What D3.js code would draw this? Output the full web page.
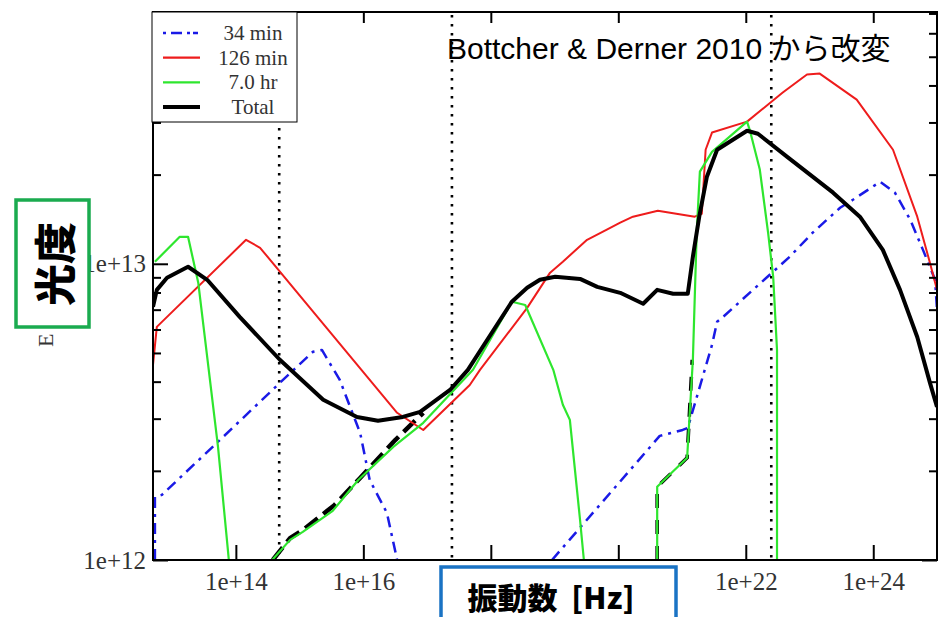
<!DOCTYPE html>
<html>
<head>
<meta charset="utf-8">
<script src="https://cdn.jsdelivr.net/npm/d3@7"></script>
<style>
  body { margin: 0; background: #fff; }
  svg { display: block; }
</style>
</head>
<body>
<svg id="chart" width="942" height="617"></svg>
<script>
// alle punkter: [log10(frekvens Hz), log10(luminositet)]
var blue34a = [[12.73, 12.000], [12.73, 12.213], [12.84, 12.220], [13.70, 12.395], [14.69, 12.598],
    [15.21, 12.703], [15.35, 12.709], [15.63, 12.608], [15.95, 12.429], [16.10, 12.270],
    [16.37, 12.159], [16.53, 12.000]];
var blue34b = [[18.96, 12.000], [20.65, 12.419], [21.01, 12.439], [21.09, 12.446], [21.47, 12.726],
    [21.55, 12.804], [21.63, 12.818], [22.69, 13.024], [23.05, 13.105], [23.48, 13.189],
    [23.68, 13.216], [24.11, 13.277], [24.34, 13.240], [24.58, 13.149], [24.78, 13.047],
    [24.97, 12.946], [25.00, 12.845]];
var red126 = [[12.70, 12.659], [12.76, 12.787], [14.16, 13.081], [14.38, 13.054], [16.53, 12.497],
    [16.94, 12.439], [17.67, 12.591], [17.83, 12.642], [18.57, 12.851], [18.93, 12.970],
    [19.13, 13.007], [19.51, 13.081], [19.82, 13.115], [20.03, 13.139], [20.23, 13.159],
    [20.62, 13.179], [21.20, 13.159], [21.31, 13.169], [21.37, 13.385], [21.47, 13.443],
    [22.02, 13.480], [22.58, 13.578], [22.96, 13.639], [23.16, 13.642], [23.74, 13.554],
    [24.31, 13.385], [24.69, 13.159], [24.89, 13.003], [25.00, 12.912]];
var green7a = [[12.73, 13.007], [13.12, 13.091], [13.25, 13.091], [13.41, 12.936], [13.72, 12.382],
    [13.89, 12.000]];
var green7b = [[14.57, 12.000], [14.85, 12.068], [15.05, 12.095], [15.52, 12.166], [15.92, 12.270],
    [16.47, 12.382], [16.94, 12.463], [17.72, 12.642], [18.33, 12.872], [18.54, 12.861],
    [18.98, 12.642], [19.13, 12.524], [19.24, 12.473], [19.40, 12.135], [19.46, 12.000]];
var green7c = [[20.61, 12.000], [20.61, 12.247], [21.08, 12.345], [21.17, 12.676], [21.23, 13.105],
    [21.28, 13.311], [21.47, 13.378], [22.02, 13.480], [22.07, 13.446], [22.22, 13.318],
    [22.35, 13.105], [22.43, 12.956], [22.49, 12.709], [22.49, 12.000]];
var totalMain = [[12.70, 12.855], [12.76, 12.912], [12.92, 12.953], [13.25, 12.990], [13.55, 12.946],
    [14.06, 12.821], [14.69, 12.676], [15.37, 12.541], [15.90, 12.483], [16.23, 12.470],
    [16.62, 12.483], [16.89, 12.500], [17.36, 12.574], [17.64, 12.642], [18.33, 12.872],
    [18.57, 12.919], [18.77, 12.946], [19.01, 12.956], [19.40, 12.949], [19.67, 12.922],
    [20.03, 12.902], [20.39, 12.865], [20.61, 12.912], [20.86, 12.899], [21.09, 12.899],
    [21.17, 13.024], [21.27, 13.159], [21.39, 13.294], [21.55, 13.385], [22.02, 13.449],
    [22.19, 13.439], [22.65, 13.361], [23.37, 13.240], [23.79, 13.159], [24.15, 13.047],
    [24.42, 12.912], [24.69, 12.753], [24.89, 12.598], [25.00, 12.517]];
var totalLowA = [[14.58, 12.000], [14.85, 12.074], [15.05, 12.101], [15.55, 12.186], [15.95, 12.277],
    [16.50, 12.405], [16.94, 12.497]];
var totalLowB = [[20.61, 12.000], [20.61, 12.247], [21.08, 12.345], [21.16, 12.676]];

var markerLogNu = [14.68, 17.39, 22.40]; // lodrette prikkede linjer
var xTickExp = [14, 16, 18, 20, 22, 24];
var xHiddenLabels = [18, 20]; // dækket af den blå boks
var yTickExp = [12, 13];
var yMinor = [2e12, 3e12, 4e12, 5e12, 6e12, 7e12, 8e12, 9e12, 2e13, 3e13, 4e13, 5e13, 6e13, 7e13];
var legendLabels = ["34 min", "126 min", "7.0 hr", "Total"];
var titleText = "Bottcher & Derner 2010 から改変";
var yLabelText = "光度";
var xLabelText = "振動数  [Hz]";

var svg = d3.select("#chart");
var mLeft = 153, mTop = 12, mRight = 937, mBottom = 560;

var x = d3.scaleLog().domain([Math.pow(10, 12.7), 1e25]).range([mLeft, mRight]);
var y = d3.scaleLog().domain([1e12, Math.pow(10, 13.85)]).range([mBottom, mTop]);

var serif = "'Liberation Serif', 'Times New Roman', serif";

svg.append("defs").append("clipPath").attr("id", "plotclip")
    .append("rect").attr("x", mLeft).attr("y", mTop).attr("width", mRight - mLeft).attr("height", mBottom - mTop);

var line = d3.line()
    .x(function(d) { return x(Math.pow(10, d[0])); })
    .y(function(d) { return y(Math.pow(10, d[1])); });

var plot = svg.append("g").attr("clip-path", "url(#plotclip)");

// prikkede markeringslinjer
markerLogNu.forEach(function(v, i) {
    plot.append("line")
        .attr("x1", x(Math.pow(10, v))).attr("x2", x(Math.pow(10, v)))
        .attr("y1", i === 0 ? 128 : mTop + 3).attr("y2", mBottom)
        .attr("stroke", "#000").attr("stroke-width", 2.6)
        .attr("stroke-dasharray", "2.6,6.4");
});

function drawLine(data, color, width, dash) {
    var p = plot.append("path").datum(data)
        .attr("d", line)
        .attr("fill", "none")
        .attr("stroke", color)
        .attr("stroke-width", width)
        .attr("stroke-linejoin", "round");
    if (dash) p.attr("stroke-dasharray", dash);
    return p;
}

drawLine(blue34a, "#1a1ae6", 2.5, "11,6,3,6");
drawLine(blue34b, "#1a1ae6", 2.5, "11,6,3,6");
drawLine(totalLowA, "#000", 4.5, "16,7");
drawLine(totalLowB, "#000", 3.6, "14,12");
drawLine(red126, "#ee1c1c", 2);
drawLine(green7a, "#2ee62e", 2.2);
drawLine(green7b, "#2ee62e", 2.2);
drawLine(green7c, "#2ee62e", 2.2);
drawLine(totalMain, "#000", 4);

// ramme
svg.append("rect").attr("x", mLeft).attr("y", mTop).attr("width", mRight - mLeft).attr("height", mBottom - mTop)
    .attr("fill", "none").attr("stroke", "#000").attr("stroke-width", 2);

// x-akse (nederst og øverst)
var xTicks = xTickExp.map(function(e) { return Math.pow(10, e); });
svg.append("g").attr("transform", "translate(0," + mBottom + ")")
    .call(d3.axisBottom(x).tickValues(xTicks).tickSize(-15).tickPadding(12)
        .tickFormat(function(d) {
            var e = Math.round(Math.log10(d));
            return xHiddenLabels.indexOf(e) >= 0 ? "" : "1e+" + e;
        }));
svg.append("g").attr("transform", "translate(0," + mTop + ")")
    .call(d3.axisTop(x).tickValues(xTicks).tickSize(-11).tickFormat(""));

// y-akse (venstre og højre)
var yTicks = yTickExp.map(function(e) { return Math.pow(10, e); });
svg.append("g").attr("transform", "translate(" + mLeft + ",0)")
    .call(d3.axisLeft(y).tickValues(yTicks).tickSize(-15).tickPadding(7)
        .tickFormat(function(d) { return "1e+" + Math.round(Math.log10(d)); }));
svg.append("g").attr("transform", "translate(" + mRight + ",0)")
    .call(d3.axisRight(y).tickValues(yTicks).tickSize(-15).tickFormat(""));
svg.append("g").attr("transform", "translate(" + mLeft + ",0)")
    .call(d3.axisLeft(y).tickValues(yMinor).tickSize(-8).tickFormat(""));
svg.append("g").attr("transform", "translate(" + mRight + ",0)")
    .call(d3.axisRight(y).tickValues(yMinor).tickSize(-8).tickFormat(""));

svg.selectAll(".domain").remove();
svg.selectAll(".tick line").attr("stroke", "#000").attr("stroke-width", 2);
svg.selectAll(".tick text").style("font-family", serif).style("font-size", "25px").attr("fill", "#333");

// rester af den oprindelige y-akse-tekst
svg.append("text")
    .attr("transform", "translate(53,347) rotate(-90)")
    .style("font-family", serif).style("font-size", "22px").attr("fill", "#333")
    .text("E");

// signaturforklaring
var legend = svg.append("g");
legend.append("rect").attr("x", 152).attr("y", 12).attr("width", 145).attr("height", 110)
    .attr("fill", "#fff").attr("stroke", "#000").attr("stroke-width", 1);
var legendStyles = [
    { color: "#1a1ae6", width: 2.5, dash: "3,5,11,5,3" },
    { color: "#ee1c1c", width: 2.2, dash: null },
    { color: "#2ee62e", width: 2.4, dash: null },
    { color: "#000", width: 4, dash: null }
];
legendLabels.forEach(function(lbl, i) {
    var yy = 33 + i * 24.7;
    var l = legend.append("line").attr("x1", 163).attr("x2", 200).attr("y1", yy).attr("y2", yy)
        .attr("stroke", legendStyles[i].color).attr("stroke-width", legendStyles[i].width);
    if (legendStyles[i].dash) l.attr("stroke-dasharray", legendStyles[i].dash);
    legend.append("text").attr("x", 253).attr("y", yy + 7)
        .attr("text-anchor", "middle")
        .style("font-family", serif).style("font-size", "21px").attr("fill", "#333")
        .text(lbl);
});

// titel
svg.append("text").attr("x", 447).attr("y", 59)
    .style("font-family", "'Liberation Sans', Arial, 'Noto Sans CJK JP', sans-serif")
    .style("font-size", "30px").attr("fill", "#000")
    .text(titleText);

// grøn boks med "光度"
svg.append("rect").attr("x", 16).attr("y", 200).attr("width", 73).attr("height", 127)
    .attr("fill", "#fff").attr("stroke", "#1aab4f").attr("stroke-width", 3.5);
svg.append("text")
    .attr("transform", "translate(52.5,264) rotate(-90)")
    .attr("text-anchor", "middle").attr("dominant-baseline", "central")
    .style("font-family", "'Noto Sans CJK JP', sans-serif").style("font-weight", "900")
    .style("font-size", "42px").attr("fill", "#000")
    .text(yLabelText);

// blå boks med "振動数 [Hz]"
svg.append("rect").attr("x", 441).attr("y", 567).attr("width", 235).attr("height", 60)
    .attr("fill", "#fff").attr("stroke", "#1a73c4").attr("stroke-width", 3.5);
svg.append("text").attr("x", 551).attr("y", 609)
    .attr("text-anchor", "middle")
    .attr("xml:space", "preserve").style("white-space", "pre")
    .style("font-family", "'Noto Sans CJK JP', sans-serif").style("font-weight", "900")
    .style("font-size", "30px").attr("fill", "#000")
    .text(xLabelText);
</script>
</body>
</html>
